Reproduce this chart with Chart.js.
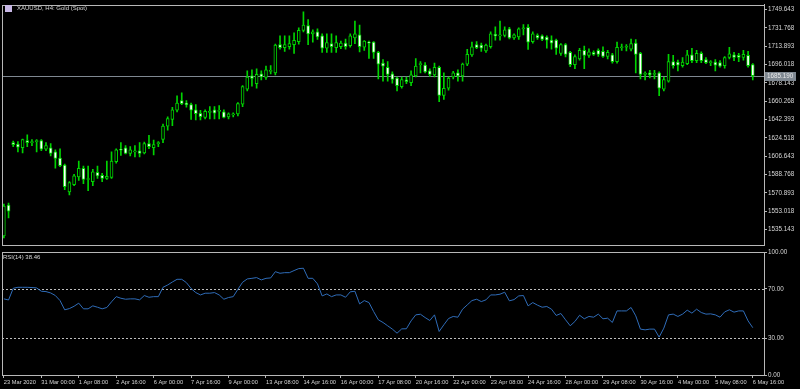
<!DOCTYPE html>
<html>
<head>
<meta charset="utf-8">
<script src="https://cdn.jsdelivr.net/npm/chart.js@4.4.1/dist/chart.umd.min.js"></script>
<style>
  html, body { margin: 0; padding: 0; background: #000; }
  #wrap { position: relative; width: 800px; height: 389px; overflow: hidden; background: #000; }
  canvas { position: absolute; left: 0; }
  #priceCanvas { top: 0; }
  #rsiCanvas { top: 246px; }
  .lbl { position: absolute; color: #d8d8d8; font: 6px "Liberation Sans", sans-serif; white-space: nowrap; }
  #icon { position: absolute; left: 5px; top: 5px; width: 7px; height: 7px; background: #c8b8e6; }
  #title { left: 17px; top: 5px; }
  #rsiLbl { left: 3px; top: 254px; }
</style>
</head>
<body>
<div id="wrap">
  <canvas id="priceCanvas" width="800" height="250"></canvas>
  <canvas id="rsiCanvas" width="800" height="143"></canvas>
  <div id="icon"></div>
  <div id="title" class="lbl">XAUUSD, H4: Gold (Spot)</div>
  <div id="rsiLbl" class="lbl">RSI(14) 38.46</div>
</div>
<script>
// XAUUSD H4 bars (one entry per bar)
const opens = [
  1529, 1559, 1620, 1618.5, 1615, 1622, 1620, 1621, 1622, 1613.5,
  1615, 1611, 1605, 1598, 1572, 1579, 1586.5, 1595, 1584, 1582,
  1591, 1588, 1585, 1586, 1601.5, 1613, 1615, 1609.5, 1611, 1612,
  1610, 1619, 1615, 1619, 1623, 1636, 1642.5, 1651.5, 1661, 1658.5,
  1657, 1652, 1648.5, 1644.5, 1649.5, 1652, 1650.5, 1650, 1645, 1647,
  1648, 1657.5, 1672, 1685, 1677.5, 1687, 1683.5, 1689.5, 1688, 1715.5,
  1712.5, 1713.5, 1715.6, 1718.5, 1729.5, 1734, 1726, 1728, 1724, 1712,
  1716.6, 1712.5, 1713.5, 1717, 1714.5, 1722, 1725, 1713, 1718, 1718,
  1708, 1697.5, 1693.5, 1687, 1683, 1674.5, 1681.3, 1678.5, 1685, 1696,
  1695.5, 1690, 1686, 1693.5, 1666, 1673, 1684, 1688, 1685, 1696.5,
  1705.5, 1715.5, 1715, 1709.5, 1713.5, 1725.5, 1724, 1724.5, 1731, 1722,
  1723, 1731, 1732.5, 1718.5, 1724.5, 1724, 1723, 1720, 1720, 1707,
  1715.5, 1708, 1696, 1701.5, 1710, 1705, 1708, 1710, 1709, 1704,
  1705.5, 1699, 1712.5, 1713, 1711, 1717, 1707, 1686.5, 1688, 1686.5,
  1688, 1672, 1680, 1699, 1698.5, 1695, 1697, 1705.5, 1700, 1707,
  1701, 1698, 1698.5, 1698, 1695, 1703, 1705.5, 1705, 1703, 1705,
  1696
];
const highs = [
  1560, 1561, 1621.5, 1621, 1623.5, 1627.5, 1623, 1623, 1623, 1620,
  1619, 1613, 1614, 1599, 1582, 1589, 1602, 1597, 1597, 1594,
  1597, 1590, 1602, 1611, 1614, 1620, 1617, 1616, 1617, 1620,
  1620.5, 1627, 1622.5, 1621, 1638, 1645, 1654.5, 1665.5, 1668.5, 1661,
  1658.5, 1657, 1651.5, 1652, 1655, 1655, 1656, 1652, 1649, 1649,
  1659, 1675.5, 1690, 1691, 1692, 1690, 1694.5, 1695, 1716, 1724,
  1724, 1724, 1727, 1732, 1747.5, 1740, 1730, 1731, 1726, 1726,
  1726, 1724, 1719, 1721, 1726, 1738.5, 1734.5, 1719.5, 1719, 1718.5,
  1709, 1701, 1699, 1689, 1684, 1684, 1684, 1690, 1702, 1699,
  1698, 1692, 1697.5, 1694.5, 1688, 1684, 1689.5, 1691, 1697.5, 1711,
  1718, 1718.5, 1717, 1716, 1728, 1733, 1738.5, 1733, 1732.5, 1726,
  1732, 1735, 1735, 1728, 1726, 1725, 1724, 1724, 1721, 1716.5,
  1716.5, 1709, 1705.5, 1712, 1714, 1711.5, 1709.5, 1711.5, 1713.5, 1710,
  1707, 1718, 1716, 1715.5, 1721, 1720.5, 1708, 1689, 1690.5, 1690.5,
  1689, 1684, 1706, 1705, 1700.5, 1703, 1710, 1712, 1710, 1708.5,
  1703, 1700, 1701, 1700, 1704, 1713, 1708, 1707, 1710, 1709,
  1697
];
const lows = [
  1527, 1546.5, 1616, 1611, 1610, 1616, 1617, 1611, 1612, 1612,
  1607, 1595, 1596.5, 1574, 1569, 1578, 1583, 1580, 1573, 1578,
  1585, 1582, 1584, 1585, 1600, 1607.5, 1609, 1607, 1606, 1606,
  1609, 1614, 1608, 1616, 1620, 1632, 1636.5, 1650, 1657, 1654.5,
  1642.5, 1642, 1642, 1643, 1643, 1643, 1643, 1644, 1643, 1645,
  1646, 1655, 1670.5, 1675, 1673, 1681, 1681.5, 1687, 1686, 1711,
  1709, 1711, 1707, 1716, 1728, 1715.5, 1718, 1720.5, 1708, 1708,
  1708, 1708, 1711.5, 1711, 1713, 1716.5, 1708.5, 1710, 1702, 1702,
  1682, 1680, 1680, 1678, 1670.5, 1673, 1677.5, 1675.5, 1684, 1688,
  1688, 1684.5, 1684, 1660, 1662, 1671, 1682, 1680, 1680, 1695,
  1704, 1711.5, 1709, 1708, 1712, 1720, 1720, 1723, 1721, 1720.5,
  1720.5, 1725, 1710.8, 1717, 1720.5, 1719.5, 1712, 1711, 1706, 1705,
  1703.5, 1694, 1692, 1700.5, 1692, 1703, 1705, 1704, 1703, 1701.5,
  1697.5, 1697.5, 1710, 1709.5, 1709.5, 1688, 1682, 1681, 1683, 1682,
  1665.8, 1670.5, 1679, 1692.5, 1690, 1693.5, 1696, 1698, 1698, 1698,
  1697, 1695, 1690, 1693.5, 1692.5, 1701.5, 1700, 1699, 1700.5, 1693.5,
  1681
];
const closes = [
  1558, 1553, 1618, 1615.5, 1623, 1620, 1620.5, 1621.5, 1613.5, 1617,
  1609.5, 1604.5, 1597.5, 1577, 1581, 1587.5, 1595, 1584, 1585, 1591.5,
  1587.5, 1585, 1587, 1602, 1613, 1612.5, 1609.5, 1613, 1612, 1609.5,
  1619, 1616, 1618, 1619.5, 1636, 1643.5, 1652, 1658.5, 1658, 1657,
  1651.5, 1648.3, 1645.3, 1650.5, 1650, 1648.8, 1651, 1644.5, 1648, 1647.5,
  1658, 1674.5, 1684, 1682.5, 1686.5, 1684, 1691, 1690, 1715, 1712.5,
  1715.5, 1716.5, 1719.8, 1729.5, 1734.7, 1726, 1728, 1723, 1712, 1717.5,
  1713.5, 1717.5, 1717, 1713.5, 1724, 1726, 1713.5, 1719, 1717, 1708,
  1696.5, 1694.5, 1686.5, 1681.6, 1675.5, 1681.5, 1679.4, 1686, 1694.5, 1696.5,
  1689, 1686.5, 1693.5, 1666, 1673, 1683, 1688, 1685, 1696.5, 1706,
  1713.4, 1712.5, 1712, 1715, 1726, 1724, 1725, 1730, 1722, 1725,
  1731, 1732, 1718, 1726, 1722, 1720.7, 1719.8, 1717, 1712, 1715.5,
  1706, 1696, 1704, 1710, 1705, 1708.5, 1706, 1706, 1704, 1708,
  1699, 1713, 1713, 1713.5, 1716.5, 1706, 1686.5, 1687, 1686, 1687,
  1673, 1681.5, 1699, 1695, 1695.5, 1698.5, 1705.5, 1700, 1707, 1700,
  1698, 1698.5, 1695.5, 1694.5, 1703, 1706.5, 1703, 1703, 1706, 1695,
  1685.19
];
const rsi14 = [
  61.9, 61.0, 70.5, 71.3, 71.3, 71.3, 71.1, 70.8, 68.1, 67.8,
  66.7, 64.6, 60.5, 53.0, 54.0, 55.9, 58.4, 53.8, 53.8, 56.2,
  55.1, 53.8, 54.9, 59.5, 63.7, 62.4, 61.6, 61.9, 61.9, 61.1,
  64.6, 63.2, 63.7, 63.7, 71.3, 73.2, 75.6, 77.8, 77.8, 75.1,
  70.3, 67.0, 65.1, 66.5, 66.5, 67.0, 65.1, 61.6, 63.0, 63.7,
  69.7, 75.4, 78.1, 78.6, 79.2, 77.3, 78.6, 78.9, 84.0, 82.7,
  83.2, 83.2, 84.9, 86.5, 86.8, 78.6, 78.6, 74.1, 64.3, 65.9,
  63.7, 65.1, 65.1, 63.2, 67.6, 68.1, 57.8, 60.5, 58.9, 51.6,
  44.9, 42.7, 40.0, 37.3, 34.0, 37.5, 37.6, 44.0, 48.9, 49.4,
  46.7, 44.3, 48.9, 35.4, 40.8, 45.9, 47.6, 47.0, 53.5, 57.0,
  60.5, 61.6, 59.7, 61.1, 65.1, 65.1, 65.7, 67.3, 60.3, 61.3,
  64.3, 64.6, 56.2, 58.9, 56.8, 55.1, 55.7, 53.5, 48.4, 50.0,
  44.9, 40.0, 43.5, 48.6, 45.7, 47.6, 47.0, 49.5, 45.7, 46.2,
  42.7, 52.1, 52.1, 52.1, 54.9, 48.1, 37.3, 36.7, 37.3, 37.3,
  30.8, 38.1, 48.9, 49.5, 47.6, 49.5, 52.7, 50.3, 53.5, 50.8,
  49.5, 49.7, 48.9, 47.0, 51.3, 53.0, 51.1, 52.1, 52.1, 44.0,
  38.46
];
const priceTicks = [1535.143, 1553.018, 1570.893, 1588.768, 1606.643, 1624.518, 1642.393,
  1660.268, 1678.143, 1696.018, 1713.893, 1731.768, 1749.643];
const rsiTicks = [0, 30, 70, 100];
const rsiLevels = [30, 70];
const lastPrice = 1685.19;
const timeLabels = ['23 Mar 2020', '31 Mar 00:00', '1 Apr 08:00', '2 Apr 16:00', '6 Apr 00:00',
  '7 Apr 16:00', '9 Apr 00:00', '13 Apr 08:00', '14 Apr 16:00', '16 Apr 00:00', '17 Apr 08:00',
  '20 Apr 16:00', '22 Apr 00:00', '23 Apr 08:00', '24 Apr 16:00', '28 Apr 00:00', '29 Apr 08:00',
  '30 Apr 16:00', '4 May 00:00', '5 May 08:00', '6 May 16:00'];
const barsPerLabel = 8;

// look
const GREEN = '#00d400';
const AXIS = '#b8b8b8';
const TEXT = '#d6d6d6';
const FONT = { family: 'Liberation Sans', size: 6.3 };
const XFONT = { family: 'Liberation Sans', size: 5.7 };
const AXIS_W = 36;
const X_MIN = -0.4, X_MAX = 162.4;

const bars = opens.map((_, i) => i);

const frame = {
  id: 'frame',
  afterDraw(chart) {
    const { ctx, chartArea: a } = chart;
    ctx.save();
    ctx.strokeStyle = AXIS;
    ctx.lineWidth = 1;
    ctx.strokeRect(Math.round(a.left) + 0.5, Math.round(a.top) + 0.5,
      Math.round(a.right - a.left), Math.round(a.bottom - a.top));
    ctx.restore();
  }
};

const bidLine = {
  id: 'bidLine',
  beforeDatasetsDraw(chart) {
    const { ctx, chartArea: a, scales: { y } } = chart;
    const py = Math.round(y.getPixelForValue(lastPrice)) + 0.5;
    ctx.save();
    ctx.strokeStyle = '#7f8891';
    ctx.lineWidth = 1;
    ctx.beginPath();
    ctx.moveTo(a.left, py);
    ctx.lineTo(a.right, py);
    ctx.stroke();
    ctx.restore();
  },
  afterDraw(chart) {
    const { ctx, chartArea: a, scales: { y } } = chart;
    const py = Math.round(y.getPixelForValue(lastPrice));
    ctx.save();
    ctx.fillStyle = '#7f8891';
    ctx.fillRect(a.right + 1, py - 4, 31, 9);
    ctx.fillStyle = '#e8e8e8';
    ctx.font = '6.3px "Liberation Sans"';
    ctx.textBaseline = 'middle';
    ctx.fillText(lastPrice.toFixed(3), a.right + 3, py + 0.5);
    ctx.restore();
  }
};

const levels = {
  id: 'levels',
  beforeDatasetsDraw(chart) {
    const { ctx, chartArea: a, scales: { y } } = chart;
    ctx.save();
    ctx.strokeStyle = '#bdbdbd';
    ctx.lineWidth = 1;
    ctx.setLineDash([2, 2]);
    rsiLevels.forEach(v => {
      const py = Math.round(y.getPixelForValue(v)) + 0.5;
      ctx.beginPath();
      ctx.moveTo(a.left, py);
      ctx.lineTo(a.right, py);
      ctx.stroke();
    });
    ctx.restore();
  }
};

// PRICE PANEL
new Chart(document.getElementById('priceCanvas'), {
  type: 'bar',
  data: {
    datasets: [
      {
        label: 'wick',
        data: bars.map(i => ({ x: i, y: [lows[i], highs[i]] })),
        backgroundColor: GREEN,
        barThickness: 1,
        grouped: false,
        order: 2
      },
      {
        label: 'body',
        data: bars.map(i => ({ x: i, y: [opens[i], closes[i]] })),
        backgroundColor: bars.map(i => closes[i] >= opens[i] ? '#000000' : '#ffffff'),
        borderColor: GREEN,
        borderWidth: 1,
        borderSkipped: false,
        barThickness: 3,
        minBarLength: 1,
        grouped: false,
        order: 1
      }
    ]
  },
  options: {
    responsive: false,
    animation: false,
    events: [],
    layout: { padding: { left: 2, top: 2, bottom: 2, right: 0 } },
    plugins: { legend: { display: false }, tooltip: { enabled: false } },
    scales: {
      x: { type: 'linear', min: X_MIN, max: X_MAX, offset: false, display: false },
      y: {
        position: 'right',
        min: 1519.9,
        max: 1754.4,
        afterFit: s => { s.width = AXIS_W; },
        afterBuildTicks: s => { s.ticks = priceTicks.map(v => ({ value: v })); },
        ticks: { color: TEXT, font: FONT, padding: 1, autoSkip: false, callback: v => v.toFixed(3) },
        grid: { drawOnChartArea: false, color: AXIS, tickLength: 3 },
        border: { color: AXIS }
      }
    }
  },
  plugins: [bidLine, frame]
});

// RSI PANEL
new Chart(document.getElementById('rsiCanvas'), {
  type: 'line',
  data: {
    datasets: [{
      label: 'RSI(14)',
      data: bars.map(i => ({ x: i, y: rsi14[i] })),
      borderColor: '#2f6cb8',
      borderWidth: 1,
      pointRadius: 0,
      tension: 0
    }]
  },
  options: {
    responsive: false,
    animation: false,
    events: [],
    layout: { padding: { left: 2, top: 6, bottom: 0, right: 0 } },
    plugins: { legend: { display: false }, tooltip: { enabled: false } },
    scales: {
      x: {
        type: 'linear',
        min: X_MIN,
        max: X_MAX,
        offset: false,
        afterFit: s => { s.height = 14; },
        afterBuildTicks: s => { s.ticks = timeLabels.map((_, k) => ({ value: k * barsPerLabel })); },
        ticks: { color: TEXT, font: XFONT, align: 'start', padding: 1, autoSkip: false, maxRotation: 0,
          callback: (v, k) => timeLabels[k] },
        grid: { drawOnChartArea: false, color: AXIS, tickLength: 3 },
        border: { color: AXIS }
      },
      y: {
        position: 'right',
        min: 0,
        max: 100,
        afterFit: s => { s.width = AXIS_W; },
        afterBuildTicks: s => { s.ticks = rsiTicks.map(v => ({ value: v })); },
        ticks: { color: TEXT, font: FONT, padding: 1, autoSkip: false, callback: v => v.toFixed(2) },
        grid: { drawOnChartArea: false, color: AXIS, tickLength: 3 },
        border: { color: AXIS }
      }
    }
  },
  plugins: [levels, frame]
});
</script>
</body>
</html>
